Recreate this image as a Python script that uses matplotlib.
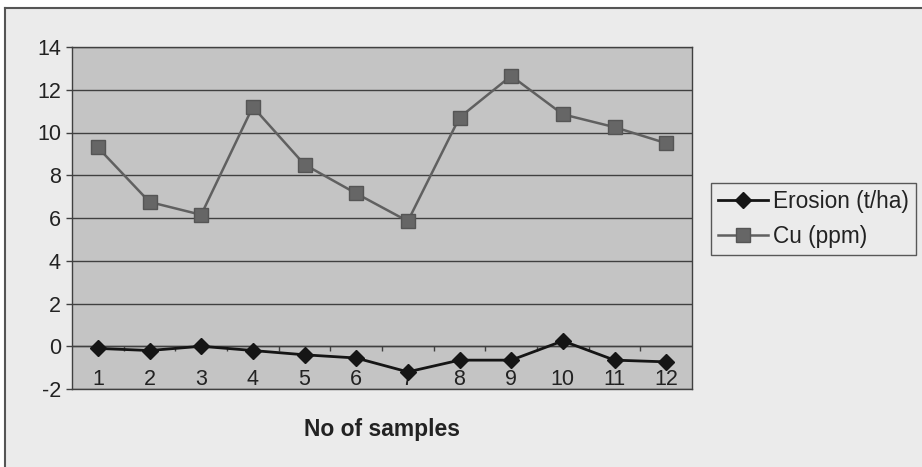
import matplotlib
matplotlib.use("Agg")
import matplotlib.pyplot as plt
from matplotlib.patches import Rectangle
from matplotlib.lines import Line2D

plt.rcParams['font.family'] = ['Liberation Sans', 'DejaVu Sans']

samples = list(range(1, 13))
sample_labels = [str(s) for s in samples]
erosion = [-0.1, -0.2, 0.0, -0.2, -0.4, -0.55, -1.2, -0.65, -0.65, 0.25, -0.65, -0.73]
cu = [9.3, 6.75, 6.15, 11.2, 8.5, 7.15, 5.85, 10.7, 12.65, 10.85, 10.25, 9.5]
yticks = [-2, 0, 2, 4, 6, 8, 10, 12, 14]

W, H = 922, 467
FS = 15.5
fig = plt.figure(figsize=(W / 100, H / 100), dpi=100)
fig.patch.set_facecolor('#ebebeb')

# white margin strips above and left of chart border
fig.add_artist(Rectangle((0, 1 - 8 / H), 1, 8 / H, transform=fig.transFigure,
                         facecolor='white', edgecolor='none', zorder=-5))
fig.add_artist(Rectangle((0, 0), 5 / W, 1, transform=fig.transFigure,
                         facecolor='white', edgecolor='none', zorder=-5))
fig.add_artist(Line2D([5 / W, 5 / W], [0, 1 - 8 / H], transform=fig.transFigure,
                      color='#555555', lw=1.5))
fig.add_artist(Line2D([5 / W, 1], [1 - 8 / H, 1 - 8 / H], transform=fig.transFigure,
                      color='#555555', lw=1.5))

ax = fig.add_axes([72 / W, (H - 389) / H, (692 - 72) / W, (389 - 47) / H])
ax.set_facecolor('#c4c4c4')
ax.set_xlim(0.5, 12.5)
ax.set_ylim(-2, 14)

for s in ax.spines.values():
    s.set_color('#404040')
    s.set_linewidth(1.0)

ax.set_yticks(yticks)
ax.set_yticklabels([str(v) for v in yticks], fontsize=FS, color='#222222')
ax.tick_params(axis='y', length=4, width=1, color='#404040', pad=4)
ax.yaxis.grid(True, color='#404040', linewidth=1.0)
ax.set_axisbelow(True)

ax.set_xticks(samples)
ax.set_xticklabels(sample_labels, fontsize=FS, color='#222222')
ax.tick_params(axis='x', length=0, pad=-14.5)

# category axis crossing at zero with ticks between categories
ax.axhline(0, color='#404040', lw=1.0, zorder=1)
bounds = [s + 0.5 for s in samples[:-1]]
ax.vlines(bounds, -0.2, 0, color='#404040', lw=1.0, zorder=1)

ax.plot(samples, cu, color='#606060', lw=1.8, marker='s', markersize=10,
        markerfacecolor='#666666', markeredgecolor='#555555', label='Cu (ppm)', zorder=3)
ax.plot(samples, erosion, color='#151515', lw=2.0, marker='D', markersize=8,
        markerfacecolor='#151515', markeredgecolor='#151515', label='Erosion (t/ha)', zorder=4)

ax.set_xlabel('No of samples', fontsize=16.5, fontweight='bold', color='#222222', labelpad=20)

handles, labels = ax.get_legend_handles_labels()
leg = fig.legend(handles[::-1], labels[::-1], loc='upper left',
                 bbox_to_anchor=(711 / W, 1 - 183 / H), fontsize=FS + 0.8,
                 frameon=True, fancybox=False, edgecolor='#333333', facecolor='#ebebeb',
                 handlelength=2.2, handletextpad=0.25, borderpad=0.3, labelspacing=0.55,
                 borderaxespad=0)
leg.get_frame().set_linewidth(1.0)
for t in leg.get_texts():
    t.set_color('#222222')

fig.savefig('out.png', dpi=100, facecolor=fig.get_facecolor())
